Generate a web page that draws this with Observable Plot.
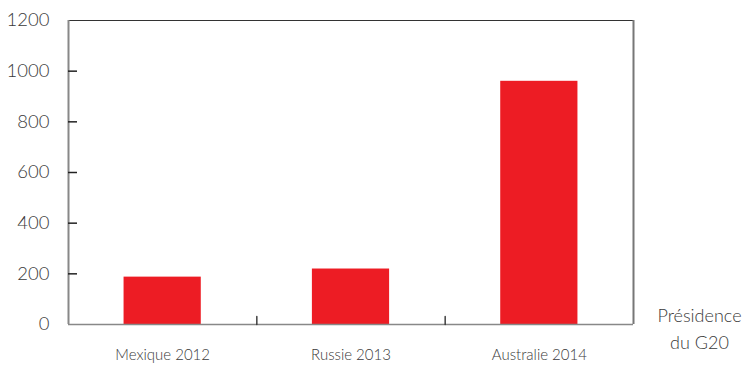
<!DOCTYPE html>
<html>
<head>
<meta charset="utf-8">
<script src="https://cdn.jsdelivr.net/npm/d3@7"></script>
<script src="https://cdn.jsdelivr.net/npm/@observablehq/plot@0.6"></script>
<style>
  html, body { margin: 0; padding: 0; background: #fff; }
  svg { font-family: Lato, "Open Sans", sans-serif; font-weight: 300; }
</style>
</head>
<body>
<div id="chart"></div>
<script>
const categories = ["Mexique 2012", "Russie 2013", "Australie 2014"];
const values = [187, 219, 960];
const yTicks = [0, 200, 400, 600, 800, 1000, 1200];
const axisTitle = ["Présidence", "du G20"];

const W = 744, ML = 68, MR = 111;
const data = categories.map((c, i) => ({ name: c, i, value: values[i] }));
const half = 0.205;
const innerY = yTicks.slice(1, -1);
const between = [0.5, 1.5];
const tickLenUnits = 9 / ((W - ML - MR) / categories.length);

const chart = Plot.plot({
  width: W,
  height: 366,
  marginLeft: ML,
  marginRight: MR,
  marginTop: 20,
  marginBottom: 42,
  style: { fontFamily: "Lato, 'Open Sans', sans-serif", color: "#333", background: "#fff" },
  x: { type: "linear", domain: [-0.5, 2.5] },
  y: { domain: [0, 1200] },
  marks: [
    Plot.rectY(data, { x1: d => d.i - half, x2: d => d.i + half, y1: 0, y2: "value", fill: "#ed1c24" }),
    // frame lines
    Plot.ruleY([1200], { stroke: "#333", strokeWidth: 1 }),
    Plot.ruleX([2.5], { stroke: "#777", strokeWidth: 2 }),
    Plot.ruleX([-0.5], { stroke: "#888", strokeWidth: 2 }),
    Plot.ruleY([0], { stroke: "#888", strokeWidth: 1.5 }),
    // inward y ticks
    Plot.ruleY(innerY, { y: d => d, x1: -0.5, x2: -0.5 + tickLenUnits, stroke: "#222", strokeWidth: 1.5 }),
    // upward x ticks between categories
    Plot.vector(between, { x: d => d, y: 0, rotate: 0, length: 8, anchor: "start", stroke: "#333", strokeWidth: 1.4, shape: "spike", r: 0 }),
    // labels
    Plot.axisY({ ticks: yTicks, tickSize: 0, tickPadding: 19, tickFormat: d => String(d), fontSize: 18.5, fontWeight: 300, fill: "#3a3a3a", label: null }),
    Plot.axisX({ ticks: [0, 1, 2], tickSize: 0, tickPadding: 25, tickFormat: i => categories[i], fontSize: 15, fontWeight: 300, fill: "#3a3a3a", label: null }),
    Plot.text([axisTitle.join("\n")], { frameAnchor: "bottom-right", dx: 66, dy: 24, lineHeight: 1.45, textAnchor: "middle", fontSize: 18, fontWeight: 300, fill: "#3a3a3a" })
  ]
});
document.getElementById("chart").appendChild(chart);
</script>
</body>
</html>
